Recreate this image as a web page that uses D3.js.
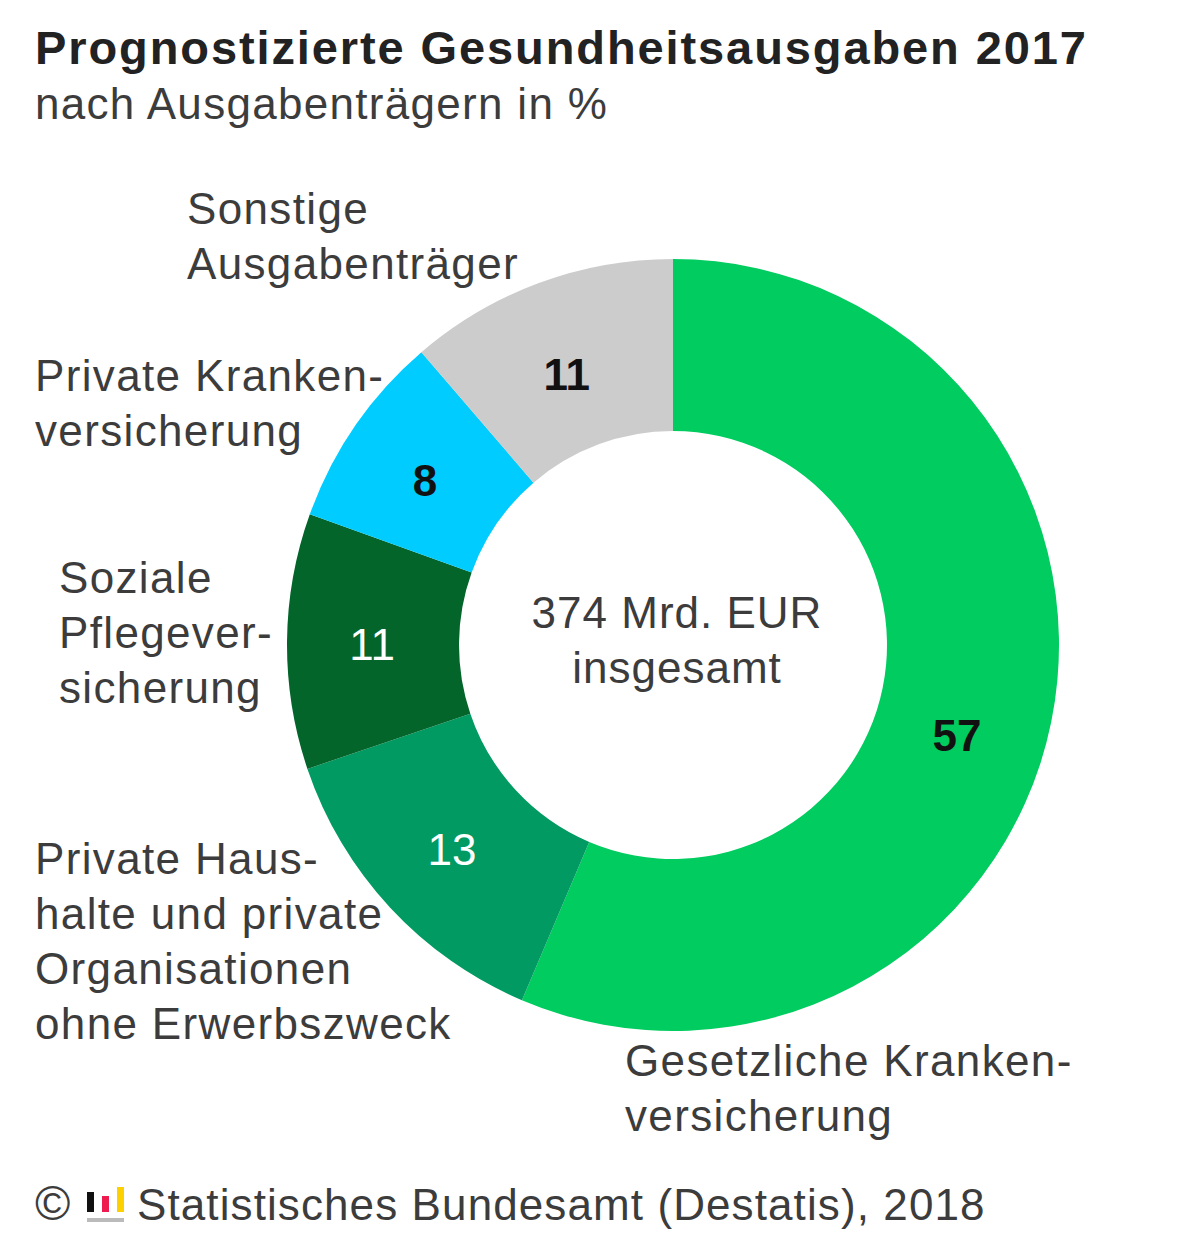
<!DOCTYPE html>
<html lang="de">
<head>
<meta charset="utf-8">
<script src="https://cdn.jsdelivr.net/npm/d3@7"></script>
<style>
  html, body { margin: 0; padding: 0; background: #fff; }
  text { font-family: "Liberation Sans", Arial, sans-serif; fill: #3c3c3c; }
</style>
</head>
<body>
<div id="chart"></div>
<script>
// --- Data (clockwise from 12 o'clock) ---
const categories = ['Gesetzliche Krankenversicherung', 'Private Haushalte und private Organisationen ohne Erwerbszweck', 'Soziale Pflegeversicherung', 'Private Krankenversicherung', 'Sonstige Ausgabenträger'];
const valueLabels = [57, 13, 11, 8, 11];
const shares = [56.4, 13.4, 10.7, 8.2, 11.3];
const colors = ['#00cc5f', '#009a62', '#03652a', '#00ccff', '#cccccc'];
const valueColors = ['#111', '#fff', '#fff', '#111', '#111'];
const valueNudges = [[-10, 31], [-1, 1], [-1, 3], [-1, 6], [-2, 11]];

const WIDTH = 1200, HEIGHT = 1250;
const cx = 673, cy = 645, outerR = 386, innerR = 214;

const svg = d3.select('#chart').append('svg')
    .attr('width', WIDTH)
    .attr('height', HEIGHT)
    .style('display', 'block');

// --- Title ---
svg.append('text').attr('x', 35).attr('y', 64)
    .style('font-size', '47px').style('font-weight', '700').style('fill', '#222')
    .style('letter-spacing', '1.9px')
    .text('Prognostizierte Gesundheitsausgaben 2017');
svg.append('text').attr('x', 35).attr('y', 119)
    .style('font-size', '44px').style('letter-spacing', '1.3px')
    .text('nach Ausgabenträgern in %');

// --- Ring ---
const pie = d3.pie().sort(null).value(d => d)(shares);
const arc = d3.arc().innerRadius(innerR).outerRadius(outerR);
const labelArc = d3.arc().innerRadius(300).outerRadius(300);

svg.append('g').attr('transform', `translate(${cx},${cy})`)
    .selectAll('path').data(pie).join('path')
    .attr('d', arc)
    .attr('fill', (d, i) => colors[i]);

svg.append('g').attr('transform', `translate(${cx},${cy})`)
    .selectAll('text').data(pie).join('text')
    .attr('x', (d, i) => labelArc.centroid(d)[0] + valueNudges[i][0])
    .attr('y', (d, i) => labelArc.centroid(d)[1] + valueNudges[i][1] + 15)
    .attr('text-anchor', 'middle')
    .style('font-size', '44px')
    .style('font-weight', (d, i) => valueColors[i] === '#fff' ? '400' : '700')
    .style('fill', (d, i) => valueColors[i])
    .text((d, i) => valueLabels[i]);

// --- Center label ---
const centerLines = ['374 Mrd. EUR', 'insgesamt'];
svg.append('g').selectAll('text').data(centerLines).join('text')
    .attr('x', 677)
    .attr('y', (d, i) => 628 + i * 55)
    .attr('text-anchor', 'middle')
    .style('font-size', '44px')
    .style('letter-spacing', '1px')
    .text(d => d);

// --- Category labels ---
const labelBlocks = [
    { x: 625, y: 1076, lines: ['Gesetzliche Kranken-', 'versicherung'] },
    { x: 35, y: 874, lines: ['Private Haus-', 'halte und private', 'Organisationen', 'ohne Erwerbszweck'] },
    { x: 59, y: 593, lines: ['Soziale', 'Pflegever-', 'sicherung'] },
    { x: 35, y: 391, lines: ['Private Kranken-', 'versicherung'] },
    { x: 187, y: 224, lines: ['Sonstige', 'Ausgabenträger'] }
];
labelBlocks.forEach(b => {
    b.lines.forEach((line, i) => {
        svg.append('text').attr('x', b.x).attr('y', b.y + i * 55)
            .style('font-size', '44px')
            .style('letter-spacing', '1.35px')
            .text(line);
    });
});

// --- Source line with small logo icon ---
svg.append('text').attr('x', 35).attr('y', 1220).style('font-size', '48px').text('©');
const logoBars = [['#111', 87, 1192, 7, 20], ['#ee1c4e', 102, 1196, 7, 16], ['#fdd000', 117, 1187, 7, 25]];
svg.append('rect').attr('x', 87).attr('y', 1218).attr('width', 37).attr('height', 4).attr('fill', '#bbb');
logoBars.forEach(f => {
    svg.append('rect').attr('x', f[1]).attr('y', f[2]).attr('width', f[3]).attr('height', f[4]).attr('fill', f[0]);
});
svg.append('text').attr('x', 137).attr('y', 1220).style('font-size', '44px')
    .style('letter-spacing', '1.1px')
    .text('Statistisches Bundesamt (Destatis), 2018');
</script>
</body>
</html>
